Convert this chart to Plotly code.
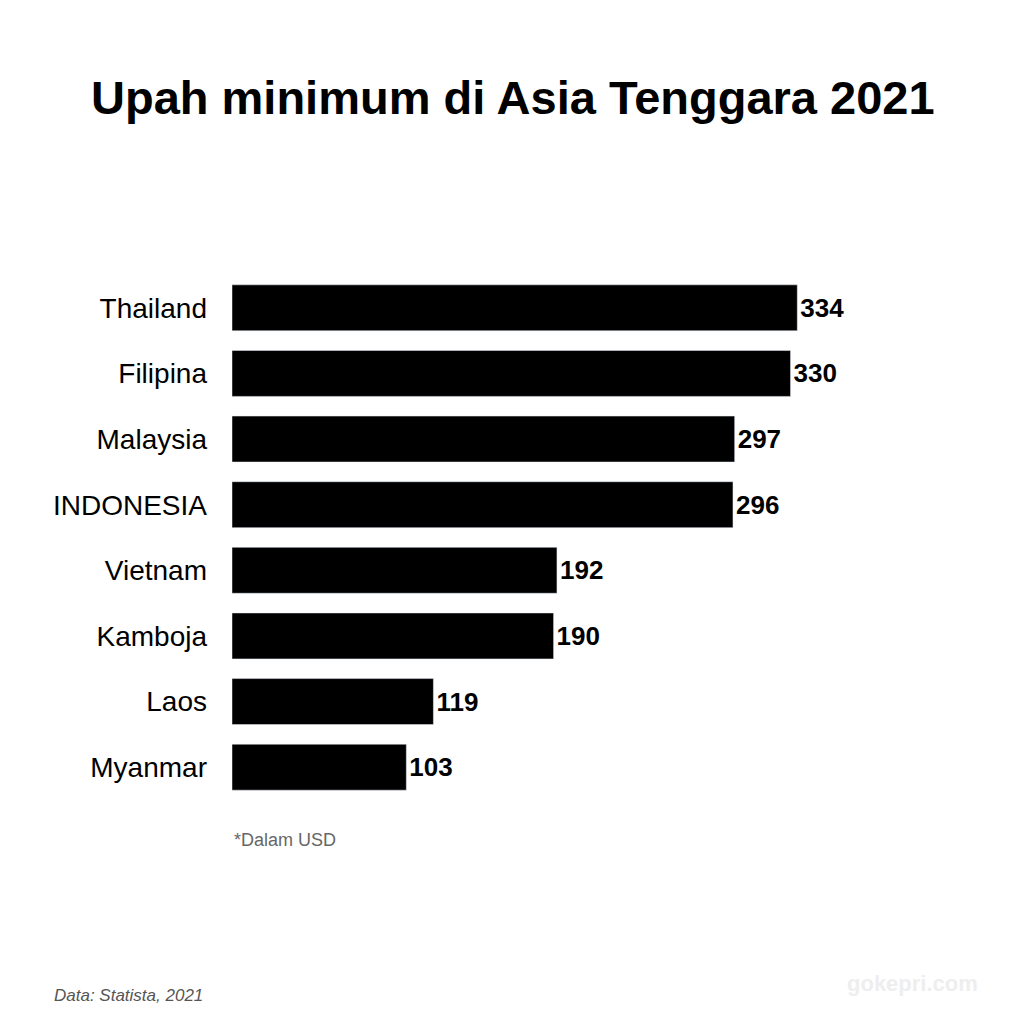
import plotly.graph_objects as go

countries = ["Thailand", "Filipina", "Malaysia", "INDONESIA", "Vietnam", "Kamboja", "Laos", "Myanmar"]
values = [334, 330, 297, 296, 192, 190, 119, 103]

L, R, T, B = 224, 123, 267, 232
pw = 1024 - L - R
ph = 1024 - T - B
OFF = 8
def px(x): return (x - OFF - L) / pw
def py(y): return (1024 - B - (y - OFF)) / ph

fig = go.Figure(go.Bar(
    x=values, y=countries, orientation="h", width=0.7,
    marker=dict(color="black"),
    text=[str(v) for v in values], textposition="outside",
    textfont=dict(family="Liberation Sans", size=26, color="black", weight="bold"),
    cliponaxis=False,
))
fig.update_layout(
    width=1024, height=1024, plot_bgcolor="white", paper_bgcolor="white",
    margin=dict(l=L, r=R, t=T, b=B),
    showlegend=False,
    font=dict(family="Liberation Sans"),
    xaxis=dict(range=[0, 400], visible=False),
    yaxis=dict(autorange="reversed", showgrid=False, ticks="", ticklabelstandoff=24,
               tickfont=dict(size=28, color="black")),
    annotations=[
        dict(text="<b>Upah minimum di Asia Tenggara 2021</b>", x=px(513), y=py(97),
             font=dict(size=47, color="black"), xanchor="center"),
        dict(text="*Dalam USD", x=px(232), y=py(840),
             font=dict(size=18, color="#666666"), xanchor="left"),
        dict(text="<i>Data: Statista, 2021</i>", x=px(52), y=py(995),
             font=dict(size=17, color="#555555"), xanchor="left"),
        dict(text="<b>gokepri.com</b>", x=px(980), y=py(983),
             font=dict(size=22, color="#eeeeee"), xanchor="right"),
    ],
)
fig.update_annotations(xref="paper", yref="paper", showarrow=False, yanchor="middle")
fig.write_html("out.html")
